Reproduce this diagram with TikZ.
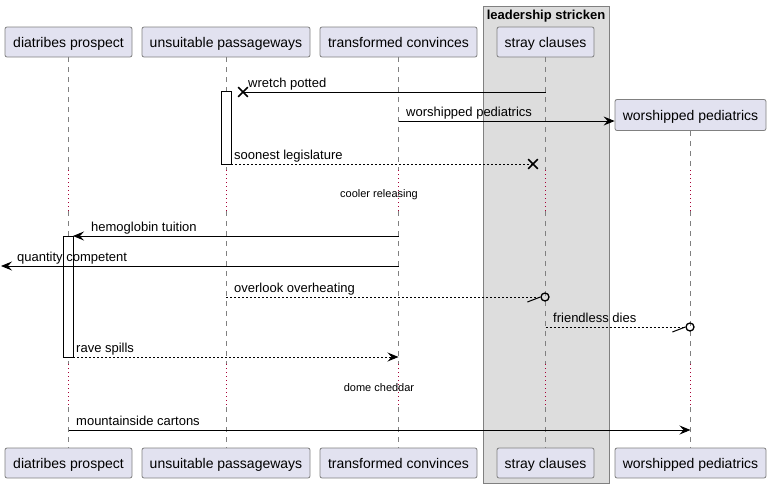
\documentclass[tikz,border=0pt]{standalone}
\usepackage{fontspec}
\setmainfont{Liberation Sans}
\usetikzlibrary{arrows.meta, positioning, shapes.misc}

\definecolor{partfill}{HTML}{E2E2F0}
\definecolor{partline}{HTML}{808080}
\definecolor{groupfill}{HTML}{DDDDDD}
\definecolor{delayred}{HTML}{A80036}

\tikzset{
	participant/.style={draw=partline, fill=partfill, rounded corners=2pt, line width=0.8pt,
		minimum height=30pt, inner sep=0pt, text height=11pt, text depth=0pt,
		font=\fontsize{14}{16}\selectfont},
	lifeline/.style={draw=gray, line width=0.8pt, dash pattern=on 5pt off 5pt},
	delayline/.style={draw=delayred, line width=1pt, dash pattern=on 1pt off 3pt},
	msg/.style={line width=1pt, -{Stealth[length=11pt, width=9pt, inset=4pt]}},
	reply/.style={msg, dash pattern=on 2pt off 2pt},
	replyline/.style={line width=1pt, dash pattern=on 2pt off 2pt},
	msglabel/.style={anchor=base west, inner sep=0pt, yshift=-1pt, font=\fontsize{13}{15}\selectfont},
	delaylabel/.style={inner sep=0pt, font=\fontsize{11}{13}\selectfont},
	activation/.style={draw, fill=white, line width=1pt},
	killmark/.style={cross out, draw, line width=1.6pt, minimum size=8pt, inner sep=0pt},
	endcircle/.style={circle, draw, line width=1.3pt, minimum size=8pt, inner sep=0pt},
}

\begin{document}
\begin{tikzpicture}[x=1pt, y=-1pt]
	\useasboundingbox (0,0) rectangle (771,488);

	% group box
	\draw[draw=partline, fill=groupfill, line width=0.8pt] (483,6) rectangle (609,483);
	\node[anchor=base, inner sep=0pt, font=\bfseries\fontsize{13}{15}\selectfont] (grouptitle) at (546,19.5) {leadership stricken};

	% participants, top and bottom
	\node[participant, minimum width=127pt] (dp) at (68.5,42) {diatribes prospect};
	\node[participant, minimum width=168pt] (up) at (226,42) {unsuitable passageways};
	\node[participant, minimum width=157pt] (tc) at (398.5,42) {transformed convinces};
	\node[participant, minimum width=97pt] (sc) at (545.5,42) {stray clauses};
	\node[participant, minimum width=151pt, minimum height=31pt] (wp) at (690.5,115) {worshipped pediatrics};

	\node[participant, minimum width=127pt] (dp-b) at (68.5,463) {diatribes prospect};
	\node[participant, minimum width=168pt] (up-b) at (226,463) {unsuitable passageways};
	\node[participant, minimum width=157pt] (tc-b) at (398.5,463) {transformed convinces};
	\node[participant, minimum width=97pt] (sc-b) at (545.5,463) {stray clauses};
	\node[participant, minimum width=151pt] (wp-b) at (690.5,463) {worshipped pediatrics};

	% lifelines with the two delays
	\foreach \n in {dp, up, tc, sc, wp} {
		\draw[lifeline] (\n.south) -- (\n |- 0,170);
		\draw[delayline] (\n |- 0,170) -- (\n |- 0,211);
		\draw[lifeline] (\n |- 0,211) -- (\n |- 0,364);
		\draw[delayline] (\n |- 0,364) -- (\n |- 0,407);
		\draw[lifeline] (\n |- 0,407) -- (\n-b.north);
	}
	\node[delaylabel] (delay1) at (379,194.5) {cooler releasing};
	\node[delaylabel] (delay2) at (379,387.5) {dome cheddar};

	% activations
	\draw[activation] (221,91) rectangle (231,164);
	\draw[activation] (63,236) rectangle (73,357);

	% messages
	\node[killmark] (kill1) at (243,92) {};
	\draw[line width=1pt] (sc |- kill1) -- (kill1.center);
	\node[msglabel] at (248,86) {wretch potted};

	\draw[msg] (tc |- 0,121) -- (wp.west |- 0,121);
	\node[msglabel] at (406,115.5) {worshipped pediatrics};

	\coordinate (act1) at (231,164);
	\node[killmark] (kill2) at (533,164) {};
	\draw[replyline] (act1) -- (kill2.center);
	\node[msglabel] at (234,158.5) {soonest legislature};

	\coordinate (act2) at (73,236);
	\draw[msg] (tc |- act2) -- (act2);
	\node[msglabel] at (91,230.5) {hemoglobin tuition};

	\coordinate (lost) at (1,266);
	\draw[msg] (tc |- lost) -- (lost);
	\node[msglabel] at (17,260.5) {quantity competent};

	\node[endcircle] (circ1) at (545,297) {};
	\draw[replyline] (up |- circ1) -- (circ1.west);
	\draw[line width=1pt] (circ1.west) -- ++(-13,5);
	\node[msglabel] at (234,291.5) {overlook overheating};

	\node[endcircle] (circ2) at (690,327) {};
	\draw[replyline] (sc |- circ2) -- (circ2.west);
	\draw[line width=1pt] (circ2.west) -- ++(-13,5);
	\node[msglabel] at (553,321.5) {friendless dies};

	\coordinate (act3) at (73,357);
	\draw[reply] (act3) -- (tc |- act3);
	\node[msglabel] at (76,351.5) {rave spills};

	\draw[msg] (dp |- 0,430) -- (wp |- 0,430);
	\node[msglabel] at (76,424.5) {mountainside cartons};
\end{tikzpicture}
\end{document}
